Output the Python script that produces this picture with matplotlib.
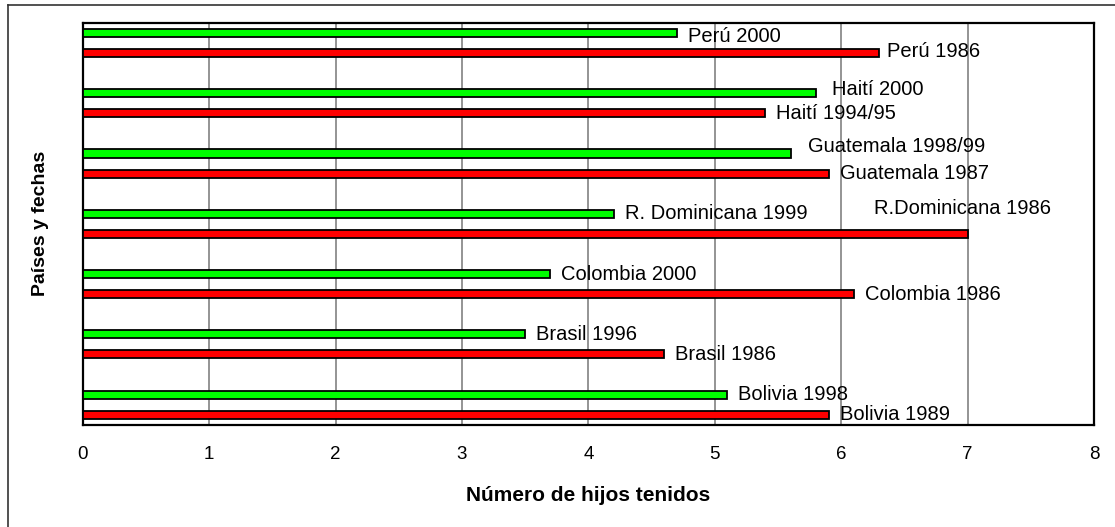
import matplotlib
matplotlib.use("Agg")
import matplotlib.pyplot as plt
from matplotlib.lines import Line2D
import numpy as np

plt.rcParams['font.family'] = ['Liberation Sans', 'DejaVu Sans']

# Data (bottom to top)
countries = ["Bolivia", "Brasil", "Colombia", "R. Dominicana", "Guatemala", "Haití", "Perú"]
recent_values = [5.1, 3.5, 3.7, 4.2, 5.6, 5.8, 4.7]
earlier_values = [5.9, 4.6, 6.1, 7.0, 5.9, 5.4, 6.3]
recent_labels = ["Bolivia 1998", "Brasil 1996", "Colombia 2000", "R. Dominicana 1999",
                 "Guatemala 1998/99", "Haití 2000", "Perú 2000"]
earlier_labels = ["Bolivia 1989", "Brasil 1986", "Colombia 1986", "R.Dominicana 1986",
                  "Guatemala 1987", "Haití 1994/95", "Perú 1986"]
x_ticks = [0, 1, 2, 3, 4, 5, 6, 7, 8]

W, H = 1115, 527
fig = plt.figure(figsize=(W / 100, H / 100), dpi=100)
ax = fig.add_axes([82.7 / W, 1 - 425 / H, (1094 - 82.7) / W, (425 - 22.7) / H])

y = np.arange(len(countries))
off = 0.166
bh = 0.135
ax.barh(y + off, recent_values, height=bh, color='#00FF00', edgecolor='black', linewidth=1.3, zorder=3)
ax.barh(y - off, earlier_values, height=bh, color='#FF0000', edgecolor='black', linewidth=1.3, zorder=3)

ax.set_xlim(0, 8)
ax.set_ylim(-0.337, len(countries) - 1 + 0.337)
ax.set_xticks(x_ticks)
ax.set_xticklabels([str(t) for t in x_ticks], fontsize=13.5)
ax.set_yticks([])
ax.tick_params(axis='x', length=0, pad=15)
for t in x_ticks[1:-1]:
    ax.axvline(t, color='#777777', linewidth=1.1, zorder=1)
for s in ax.spines.values():
    s.set_linewidth(1.6)
    s.set_color('black')

# label offsets (pixels): (dx, dy, ha)
rec_off = {5: (16, 4, 'left'), 4: (17, 7, 'left'), 6: (11, -3, 'left')}
ear_off = {3: (-5, 25, 'center'), 6: (8, 2, 'left')}
fs = 14.5
for i, (v, lab) in enumerate(zip(recent_values, recent_labels)):
    dx, dy, ha = rec_off.get(i, (11, 0, 'left'))
    ax.annotate(lab, (v, i + off), xytext=(dx, dy), textcoords='offset pixels',
                ha=ha, va='center', fontsize=fs, zorder=5)
for i, (v, lab) in enumerate(zip(earlier_values, earlier_labels)):
    dx, dy, ha = ear_off.get(i, (11, 0, 'left'))
    ax.annotate(lab, (v, i - off), xytext=(dx, dy), textcoords='offset pixels',
                ha=ha, va='center', fontsize=fs, zorder=5)

ax.set_xlabel("Número de hijos tenidos", fontsize=15, fontweight='bold', labelpad=17)
ax.set_ylabel("Países y fechas", fontsize=14, fontweight='bold', labelpad=24)

# outer frame (top and left visible)
fig.add_artist(Line2D([7.5 / W, 1], [1 - 5 / H, 1 - 5 / H], transform=fig.transFigure,
                      color='#333333', linewidth=1.2))
fig.add_artist(Line2D([7.5 / W, 7.5 / W], [0, 1 - 5 / H], transform=fig.transFigure,
                      color='#333333', linewidth=1.2))

fig.savefig("out.png", dpi=100)
